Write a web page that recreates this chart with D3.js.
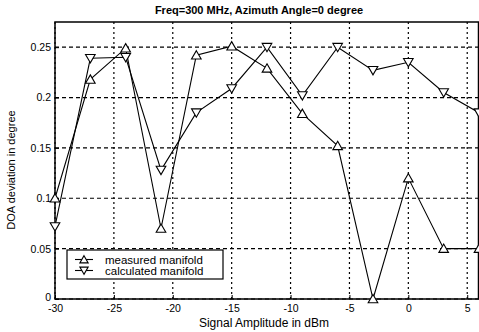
<!DOCTYPE html>
<html><head><meta charset="utf-8">
<script src="https://cdn.jsdelivr.net/npm/d3@7"></script>
<style>body{margin:0;background:#fff}svg{display:block}text{font-family:"Liberation Sans",Arial,sans-serif;fill:#000}</style>
</head><body>
<script>
const amplitudes = [-30,-27,-24,-21,-18,-15,-12,-9,-6,-3,0,3,6];
const measured   = [0.100,0.218,0.249,0.070,0.242,0.251,0.229,0.184,0.152,0.000,0.120,0.050,0.050];
const calculated = [0.072,0.239,0.240,0.128,0.185,0.209,0.250,0.202,0.250,0.227,0.235,0.205,0.185];
const xTicks = [-30,-25,-20,-15,-10,-5,0,5];
const yTicks = [0,0.05,0.1,0.15,0.2,0.25];
const yTickLabels = ["0","0.05","0.1","0.15","0.2","0.25"];
const seriesNames = ["measured manifold","calculated manifold"];

const W=479,H=332;
const m={l:55,r:0,t:22,b:33};
const svg=d3.select("body").append("svg").attr("width",W).attr("height",H);
const x=d3.scaleLinear().domain([-30,6]).range([m.l,W-m.r]);
const y=d3.scaleLinear().domain([0,0.275]).range([H-m.b,m.t]);

// grid
const g=svg.append("g");
g.selectAll(".vg").data(xTicks).join("line").attr("x1",d=>x(d)).attr("x2",d=>x(d))
 .attr("y1",y(0)).attr("y2",y(0.275)).attr("stroke","#000").attr("stroke-width",1.2).attr("stroke-dasharray","2,3");
g.selectAll(".hg").data(yTicks).join("line").attr("y1",d=>y(d)).attr("y2",d=>y(d))
 .attr("x1",x(-30)).attr("x2",x(6)).attr("stroke","#000").attr("stroke-width",1.2).attr("stroke-dasharray","4,3");

// box
svg.append("rect").attr("x",x(-30)).attr("y",y(0.275)).attr("width",x(6)-x(-30)-0.5).attr("height",y(0)-y(0.275))
 .attr("fill","none").attr("stroke","#000").attr("stroke-width",1.5);

// axes
const xa=svg.append("g").attr("transform",`translate(0,${y(0)})`)
 .call(d3.axisBottom(x).tickValues(xTicks).tickSize(-4).tickPadding(6).tickFormat(d3.format("d")));
const ya=svg.append("g").attr("transform",`translate(${x(-30)},0)`)
 .call(d3.axisLeft(y).tickValues(yTicks).tickSize(-4).tickPadding(4).tickFormat((d,i)=>yTickLabels[i]));
[xa,ya].forEach(a=>{a.select(".domain").remove();a.selectAll("line").attr("stroke","#000");
 a.selectAll("text").attr("font-size",10.5).attr("font-family","Liberation Sans, Arial, sans-serif");});
xa.selectAll("text").text(d=>d<0?"-"+Math.abs(d):d);
ya.selectAll("text").filter(d=>d===0).attr("dy","0.1em");

const line=d3.line().x((d,i)=>x(amplitudes[i])).y(d=>y(d));
const up=d3.symbol().type(d3.symbolTriangle).size(40);

[[measured,0],[calculated,180]].forEach(([data,rot])=>{
  svg.append("path").datum(data).attr("d",line).attr("fill","none").attr("stroke","#000").attr("stroke-width",1.1);
  svg.selectAll(null).data(data).join("path").attr("d",up)
   .attr("transform",(d,i)=>`translate(${x(amplitudes[i])},${y(d)+(rot?-1:1)}) rotate(${rot})`)
   .attr("fill","#fff").attr("stroke","#000").attr("stroke-width",1.1);
});

// legend
const lg=svg.append("g");
lg.append("rect").attr("x",67).attr("y",250).attr("width",156).attr("height",29).attr("fill","#fff").attr("stroke","#000").attr("stroke-width",1.2);
seriesNames.forEach((n,i)=>{
  const yy=259.5+i*11;
  lg.append("line").attr("x1",75).attr("x2",93).attr("y1",yy).attr("y2",yy).attr("stroke","#000").attr("stroke-width",1.1);
  lg.append("path").attr("d",d3.symbol().type(d3.symbolTriangle).size(30)).attr("transform",`translate(84,${yy+(i?-1:1)}) rotate(${i?180:0})`).attr("fill","#fff").attr("stroke","#000").attr("stroke-width",1.1);
  lg.append("text").attr("x",105).attr("y",yy+4).attr("font-size",11.5).text(n);
});

svg.append("text").attr("x",259).attr("y",14).attr("text-anchor","middle").attr("font-size",11).attr("font-weight","bold").text("Freq=300 MHz, Azimuth Angle=0 degree");
svg.append("text").attr("x",264).attr("y",327).attr("text-anchor","middle").attr("font-size",12).text("Signal Amplitude in dBm");
svg.append("text").attr("transform","translate(15,170) rotate(-90)").attr("text-anchor","middle").attr("font-size",11).text("DOA deviation in degree");
</script>
</body></html>
